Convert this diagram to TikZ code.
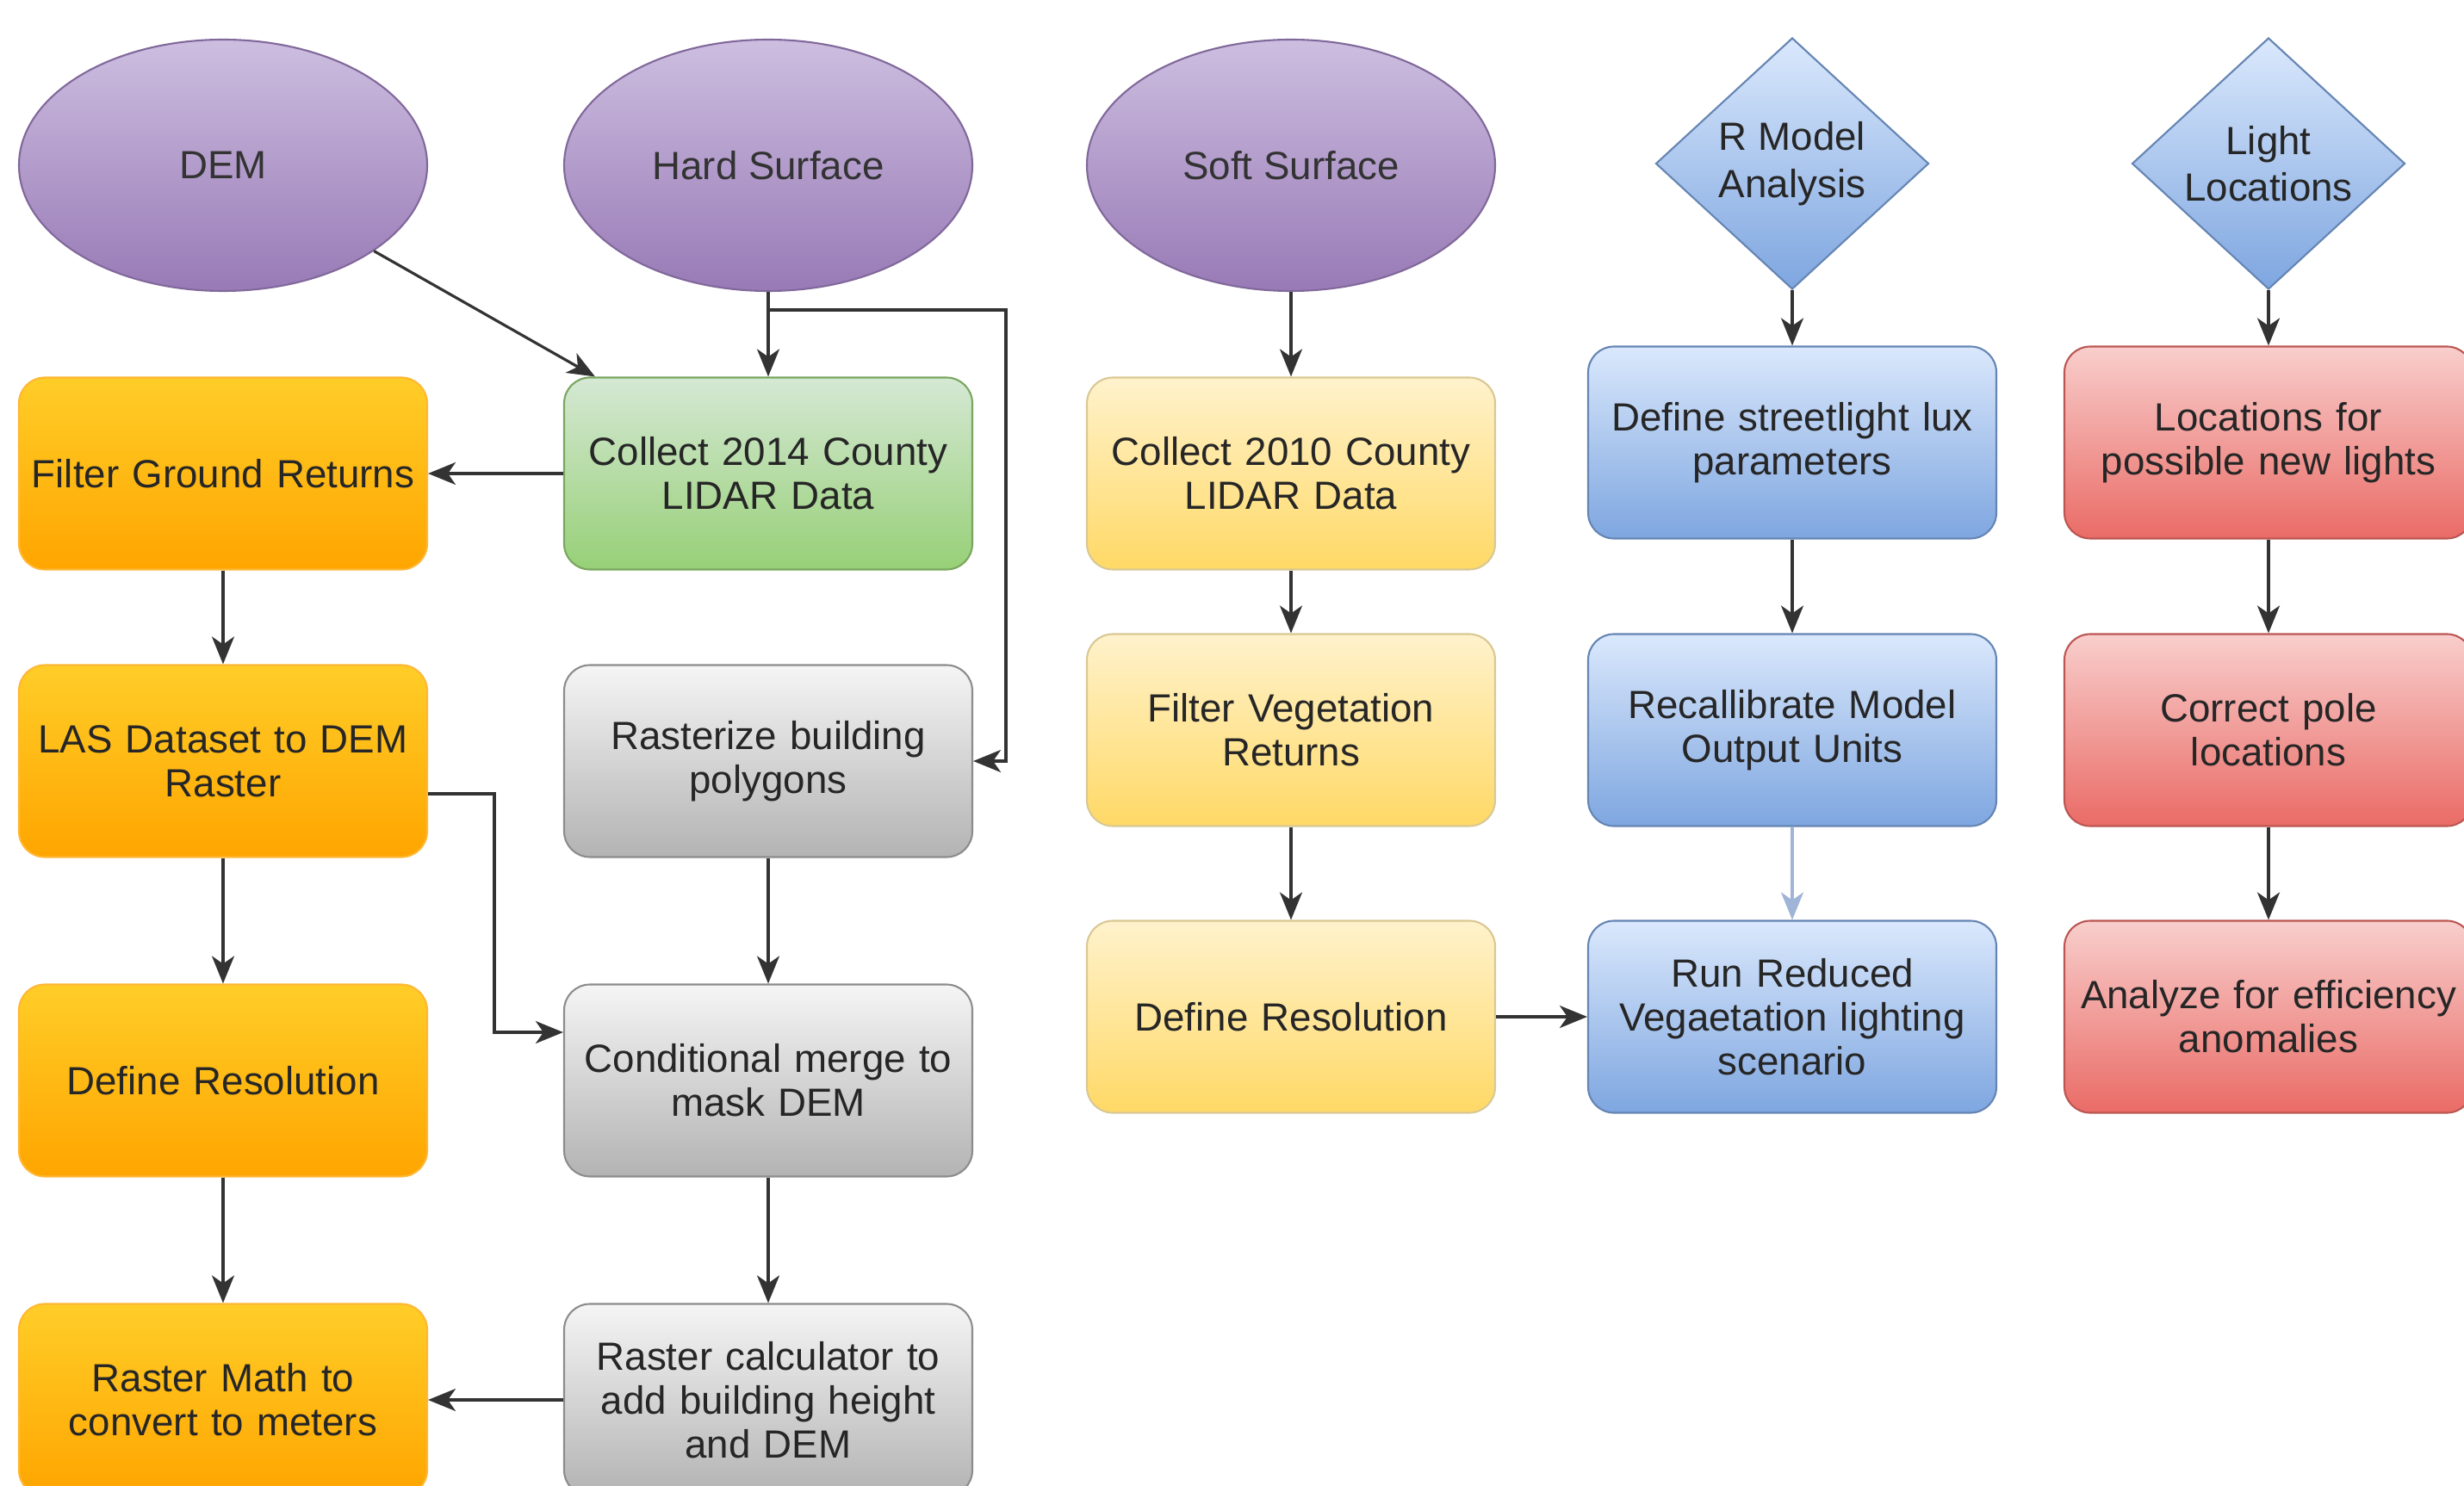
\documentclass[tikz,border=0pt]{standalone}
\usepackage{fontspec}
\setmainfont{Liberation Sans}
\usepackage{xcolor}
\usepackage{tikz}
\usetikzlibrary{shapes.geometric, arrows, arrows.meta}

\definecolor{puTop}{RGB}{205,190,224}
\definecolor{puBot}{RGB}{152,122,182}
\definecolor{orTop}{RGB}{255,205,40}
\definecolor{orBot}{RGB}{255,165,0}
\definecolor{grTop}{RGB}{213,232,212}
\definecolor{grBot}{RGB}{151,208,119}
\definecolor{gyTop}{RGB}{245,245,245}
\definecolor{gyBot}{RGB}{179,179,179}
\definecolor{yeTop}{RGB}{255,242,204}
\definecolor{yeBot}{RGB}{255,217,102}
\definecolor{blTop}{RGB}{218,232,252}
\definecolor{blBot}{RGB}{126,166,224}
\definecolor{reTop}{RGB}{248,206,204}
\definecolor{reBot}{RGB}{234,107,102}
\definecolor{paleArrow}{RGB}{160,180,215}

\tikzstyle{box} = [rectangle, rounded corners=3mm, minimum width=4.74cm, minimum height=2.23cm, text width=4.7cm, align=center, inner sep=0pt, font=\fontsize{13}{14.5}\selectfont, text=black!85, line width=0.6pt]
\tikzstyle{orangebox} = [box, top color=orTop, bottom color=orBot, draw=orBot!80!white]
\tikzstyle{greenbox} = [box, top color=grTop, bottom color=grBot, draw=grBot!80!black]
\tikzstyle{graybox} = [box, top color=gyTop, bottom color=gyBot, draw=black!45]
\tikzstyle{yellowbox} = [box, top color=yeTop, bottom color=yeBot, draw=yeBot!75!black!60]
\tikzstyle{bluebox} = [box, top color=blTop, bottom color=blBot, draw=blBot!80!black]
\tikzstyle{redbox} = [box, top color=reTop, bottom color=reBot, draw=reBot!80!black]
\tikzstyle{source} = [ellipse, minimum width=4.74cm, minimum height=2.92cm, top color=puTop, bottom color=puBot, draw=puBot!85!black, line width=0.6pt, font=\fontsize{13}{14.5}\selectfont, text=black!80]
\tikzstyle{decision} = [diamond, aspect=1.1, inner sep=1pt, minimum width=3.17cm, minimum height=2.92cm, top color=blTop, bottom color=blBot, draw=blBot!80!black, line width=0.6pt, align=center, font=\fontsize{13}{15.5}\selectfont, text=black!85]
\tikzstyle{arrow} = [line width=0.9pt, draw=black!80, -{Stealth[length=3.2mm, width=2.6mm, inset=0.9mm]}]

\begin{document}
\begin{tikzpicture}
        \useasboundingbox (0,0) rectangle (28.61,17.25);
        % inputs
        \node (dem) [source] at (2.59,15.33) {DEM};
        \node (hard) [source] at (8.92,15.33) {Hard Surface};
        \node (soft) [source] at (14.99,15.33) {Soft Surface};
        \node (rmodel) [decision] at (20.81,15.35) {R Model\\Analysis};
        \node (lights) [decision] at (26.34,15.35) {Light\\Locations};

        % hard surface branch
        \node (collectA) [greenbox] at (8.92,11.75) {Collect 2014 County\\LIDAR Data};
        \draw [arrow] (hard) -- (collectA);
        \draw [arrow] (dem) -- ([xshift=3.7mm]collectA.north west);
        \node (rasterize) [graybox] at (8.92,8.41) {Rasterize building\\polygons};
        \draw [arrow] (hard.south) |- (11.68,13.65) |- (rasterize.east);
        \node (merge) [graybox] at (8.92,4.70) {Conditional merge to\\mask DEM};
        \draw [arrow] (rasterize) -- (merge);
        \node (calc) [graybox] at (8.92,0.99) {Raster calculator to\\add building height\\and DEM};
        \draw [arrow] (merge) -- (calc);

        % DEM branch
        \node (ground) [orangebox] at (2.59,11.75) {Filter Ground Returns};
        \draw [arrow] (collectA) -- (ground);
        \node (las) [orangebox] at (2.59,8.41) {LAS Dataset to DEM\\Raster};
        \draw [arrow] (ground) -- (las);
        \draw [arrow] ([yshift=-3.8mm]las.east) -- ++(0.77,0) |- ([yshift=5.6mm]merge.west);
        \node (demres) [orangebox] at (2.59,4.70) {Define Resolution};
        \draw [arrow] (las) -- (demres);
        \node (rmath) [orangebox] at (2.59,0.99) {Raster Math to\\convert to meters};
        \draw [arrow] (demres) -- (rmath);
        \draw [arrow] (calc) -- (rmath);

        % soft surface branch
        \node (collectB) [yellowbox] at (14.99,11.75) {Collect 2010 County\\LIDAR Data};
        \draw [arrow] (soft) -- (collectB);
        \node (veg) [yellowbox] at (14.99,8.77) {Filter Vegetation\\Returns};
        \draw [arrow] (collectB) -- (veg);
        \node (vegres) [yellowbox] at (14.99,5.44) {Define Resolution};
        \draw [arrow] (veg) -- (vegres);

        % model branch
        \node (lux) [bluebox] at (20.81,12.11) {Define streetlight lux\\parameters};
        \draw [arrow] (rmodel) -- (lux);
        \node (recal) [bluebox] at (20.81,8.77) {Recallibrate Model\\Output Units};
        \draw [arrow] (lux) -- (recal);
        \node (runred) [bluebox] at (20.81,5.44) {Run Reduced\\Vegaetation lighting\\scenario};
        \draw [arrow, draw=paleArrow] (recal) -- (runred);
        \draw [arrow] (vegres) -- (runred);

        % light locations branch
        \node (newlights) [redbox] at (26.34,12.11) {Locations for\\possible new lights};
        \draw [arrow] (lights) -- (newlights);
        \node (poles) [redbox] at (26.34,8.77) {Correct pole\\locations};
        \draw [arrow] (newlights) -- (poles);
        \node (anomalies) [redbox] at (26.34,5.44) {Analyze for efficiency\\anomalies};
        \draw [arrow] (poles) -- (anomalies);
\end{tikzpicture}
\end{document}
